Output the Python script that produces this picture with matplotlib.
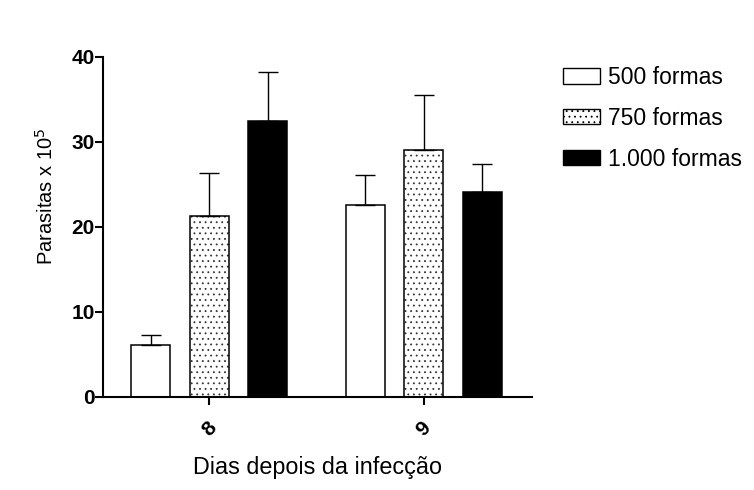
import matplotlib
matplotlib.use("Agg")
import matplotlib.pyplot as plt
import numpy as np
from matplotlib.patches import Patch

plt.rcParams['font.family'] = ['Liberation Sans', 'DejaVu Sans']
plt.rcParams['hatch.linewidth'] = 0.6

days = ["8", "9"]
series = ["500 formas", "750 formas", "1.000 formas"]
means = {
    "500 formas": [6.1, 22.6],
    "750 formas": [21.3, 29.1],
    "1.000 formas": [32.5, 24.1],
}
sems = {
    "500 formas": [1.2, 3.5],
    "750 formas": [5.1, 6.4],
    "1.000 formas": [5.7, 3.3],
}
yticks = [0, 10, 20, 30, 40]

styles = {
    "500 formas": dict(facecolor="white", hatch=None),
    "750 formas": dict(facecolor="white", hatch="..."),
    "1.000 formas": dict(facecolor="black", hatch=None),
}

fig = plt.figure(figsize=(7.54, 4.90), dpi=100)
ax = fig.add_axes([0.1366, 0.1898, 0.569, 0.694])

x = np.arange(len(days))
width = 0.182
offsets = [-0.273, 0.0, 0.273]

handles = []
for name, off in zip(series, offsets):
    st = styles[name]
    err = np.array(sems[name])
    bars = ax.bar(x + off, means[name], width, facecolor=st["facecolor"],
                  edgecolor="black", linewidth=1.1, hatch=st["hatch"],
                  yerr=[np.zeros_like(err), err],
                  error_kw=dict(ecolor="black", elinewidth=1.0, capsize=7.2,
                                capthick=1.0),
                  zorder=2)
    if st["hatch"]:
        for b in bars:
            b._hatch_color = (0.2, 0.2, 0.2, 1.0)
    handles.append(Patch(facecolor=st["facecolor"], edgecolor="black",
                         linewidth=1.0, hatch=st["hatch"]))

ax.set_xlim(-0.495, 1.505)
ax.set_ylim(0, 40)
ax.set_yticks(yticks)
ax.set_yticklabels([str(t) for t in yticks], fontsize=15, fontweight="bold")
ax.set_xticks(x)
ax.set_xticklabels(days, fontsize=15, fontweight="bold", rotation=45,
                   ha="center", va="top")

for side in ("top", "right"):
    ax.spines[side].set_visible(False)
for side in ("left", "bottom"):
    ax.spines[side].set_linewidth(1.5)
ax.tick_params(axis="both", direction="out", length=6, width=1.5)
ax.tick_params(axis="y", pad=0)
ax.tick_params(axis="x", pad=9)

ax.set_ylabel("Parasitas x 10$^5$", fontsize=14.5)
ax.yaxis.set_label_coords(-0.108, 0.59)
ax.set_xlabel("Dias depois da infecção", fontsize=16.8, labelpad=12)

fig.legend(handles, series, loc="upper left",
           bbox_to_anchor=(563 / 754, 1 - 66 / 490),
           frameon=False, fontsize=16.5, handlelength=1.6, handleheight=0.65,
           labelspacing=0.78, handletextpad=0.35, borderpad=0,
           borderaxespad=0)

fig.savefig("out.png", dpi=100)
